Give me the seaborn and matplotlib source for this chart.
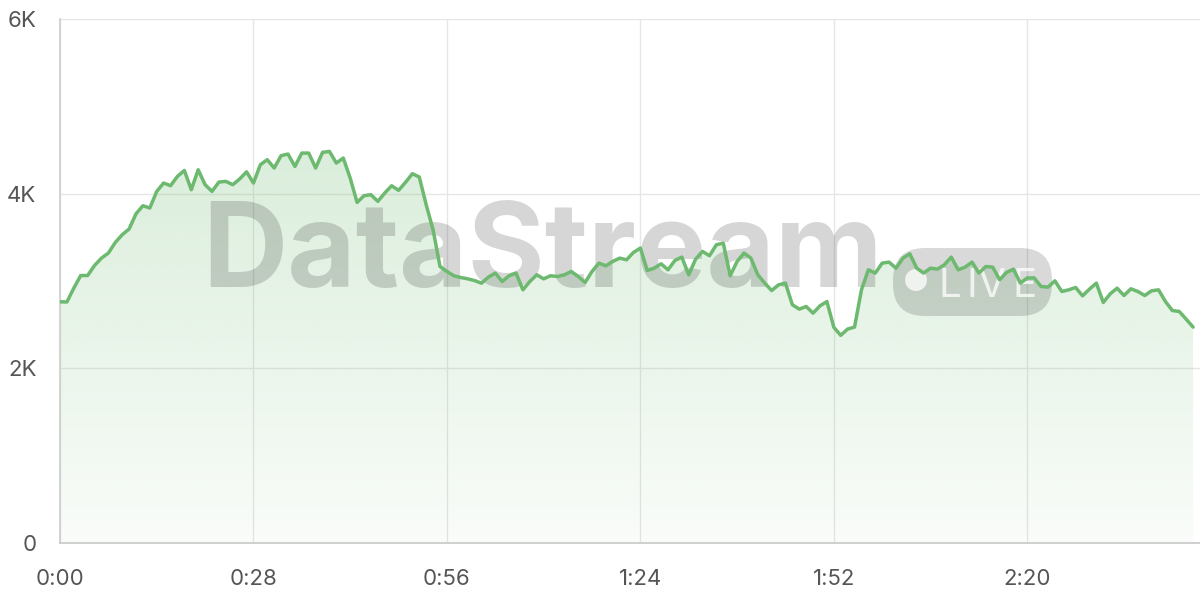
import numpy as np
import pandas as pd
import matplotlib
matplotlib.use("Agg")
import matplotlib.pyplot as plt
import seaborn as sns
from matplotlib.patches import FancyBboxPatch, Circle
from matplotlib.transforms import IdentityTransform

# viewers per second
seconds = list(range(165))
viewers = [
    2762, 2760, 2919, 3063, 3063, 3178, 3262, 3320, 3441, 3530,
    3595, 3770, 3862, 3836, 4026, 4122, 4091, 4198, 4266, 4045,
    4274, 4103, 4026, 4133, 4141, 4103, 4168, 4250, 4122, 4332,
    4389, 4294, 4435, 4454, 4312, 4465, 4465, 4294, 4473, 4484,
    4351, 4408, 4179, 3900, 3977, 3988, 3912, 4007, 4091, 4038,
    4129, 4229, 4191, 3873, 3587, 3166,
    3109, 3060, 3040, 3025, 3005, 2975, 3044, 3091, 2994, 3060,
    3091, 2899, 2994, 3071, 3025, 3060, 3052, 3071, 3109, 3052,
    2983, 3109, 3205, 3174, 3224, 3262, 3243, 3327, 3377,
    3121, 3147, 3197, 3128, 3235, 3274, 3071, 3251, 3339, 3289,
    3415, 3434, 3060, 3224, 3320, 3262, 3071, 2976, 2891, 2956,
    2976, 2728, 2678, 2708, 2632, 2716, 2765, 2470, 2378, 2450,
    2472, 2899, 3128, 3091, 3205, 3216, 3147, 3262, 3312, 3147,
    3091, 3147, 3136, 3186, 3274, 3128, 3159, 3216, 3091, 3166,
    3159, 3014, 3098, 3136, 2976, 3035, 3035, 2937,
    2930, 3002, 2880, 2899, 2926, 2830, 2907, 2976, 2754, 2853,
    2918, 2834, 2911, 2880, 2834, 2888, 2899, 2765, 2662, 2651,
    2563, 2472,
]
x_ticks = [0, 28, 56, 84, 112, 140]
x_labels = ["0:00", "0:28", "0:56", "1:24", "1:52", "2:20"]
y_ticks = [0, 2000, 4000, 6000]
y_labels = ["0", "2K", "4K", "6K"]

df = pd.DataFrame({"t": seconds, "v": viewers})

sns.set_style("white")
plt.rcParams["font.family"] = ["Inter", "DejaVu Sans"]

green = "#6cb96f"
grid_c = "#e6e6e6"
txt_c = "#555555"

fig = plt.figure(figsize=(12, 6), dpi=100)
ax = fig.add_axes([0.05, 0.095, 0.95, 0.8733])

# gradient fill under the line
poly = ax.fill_between(df["t"], df["v"], 0, color="none", lw=0)
ymax = max(viewers)
grad = np.zeros((256, 1, 4))
grad[:, 0, :3] = matplotlib.colors.to_rgb(green)
grad[:, 0, 3] = np.linspace(0.25, 0.04, 256)
img = ax.imshow(grad, extent=[0, len(seconds) - 1, 0, ymax], aspect="auto",
                origin="upper", zorder=1, interpolation="bilinear")
img.set_clip_path(poly.get_paths()[0], transform=ax.transData)

sns.lineplot(data=df, x="t", y="v", color=green, linewidth=2.5, ax=ax, zorder=3)

# watermark
ax.text(543 / 1200, 313 / 600, "DataStream", transform=fig.transFigure,
        fontsize=85, fontweight="bold", color="#000000", alpha=0.16,
        ha="center", va="baseline", zorder=2)
pill = FancyBboxPatch((893, 284), 159, 68, boxstyle="round,pad=0,rounding_size=32",
                      transform=IdentityTransform(), fc=(0, 0, 0, 0.15), ec="none",
                      zorder=2)
ax.add_artist(pill)
dot = Circle((916, 320), 11, transform=IdentityTransform(),
             fc=(1, 1, 1, 0.75), ec="none", zorder=2)
ax.add_artist(dot)
for ch, px in zip("LIVE", [938, 967, 978, 1012]):
    ax.text(px / 1200, 303 / 600, ch, transform=fig.transFigure,
            fontsize=29, color="white", alpha=0.75, ha="left", va="baseline", zorder=2)

ax.set_xlim(0, 165)
ax.set_ylim(0, 6000)
ax.set_xticks(x_ticks)
ax.set_xticklabels(x_labels)
ax.set_yticks(y_ticks)
ax.set_yticklabels(y_labels)
ax.set_xlabel("")
ax.set_ylabel("")
ax.grid(True, color=grid_c, linewidth=1.0, zorder=0)
ax.set_axisbelow(True)
ax.tick_params(axis="y", length=12, width=1.0, color=grid_c, pad=5,
               labelsize=16, labelcolor=txt_c)
ax.tick_params(axis="x", length=11, width=1.0, color=grid_c, pad=8,
               labelsize=16, labelcolor=txt_c)
for s in ["top", "right"]:
    ax.spines[s].set_visible(False)
ax.spines["left"].set_color("#d0d0d0")
ax.spines["left"].set_linewidth(1.3)
ax.spines["bottom"].set_color("#cccccc")
ax.spines["bottom"].set_linewidth(1.3)

fig.savefig("out.png", dpi=100)
